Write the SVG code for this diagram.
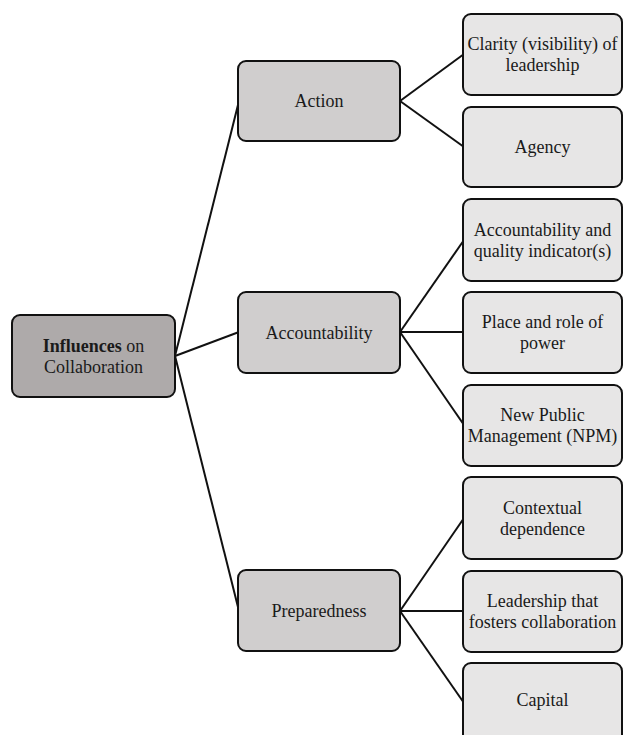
<svg xmlns="http://www.w3.org/2000/svg" width="623" height="735" viewBox="0 0 623 735">
  <style>
    .box { stroke: #111; stroke-width: 2; }
    .root { fill: #aeaaaa; }
    .mid { fill: #d0cece; }
    .leaf { fill: #e7e6e6; }
    .lbl { font-family: 'Liberation Serif', Tinos, 'Times New Roman', Times, 'DejaVu Serif', serif; font-size: 18px; fill: #1a1a1a; text-anchor: middle; }
    .edge { stroke: #111; stroke-width: 2; fill: none; }
  </style>
  <rect width="623" height="735" fill="#ffffff"/>

  <!-- connectors -->
  <g id="connectors">
    <line class="edge" x1="175" y1="356" x2="239" y2="101"/>
    <line class="edge" x1="175" y1="356" x2="239" y2="332"/>
    <line class="edge" x1="175" y1="356" x2="239" y2="611"/>
    <line class="edge" x1="400" y1="101" x2="464" y2="54"/>
    <line class="edge" x1="400" y1="101" x2="464" y2="147"/>
    <line class="edge" x1="400" y1="332" x2="464" y2="240"/>
    <line class="edge" x1="400" y1="332" x2="464" y2="332"/>
    <line class="edge" x1="400" y1="332" x2="464" y2="425"/>
    <line class="edge" x1="400" y1="611" x2="464" y2="518"/>
    <line class="edge" x1="400" y1="611" x2="464" y2="611"/>
    <line class="edge" x1="400" y1="611" x2="464" y2="703"/>
  </g>

  <g font-family="'Liberation Serif', Tinos, 'Times New Roman', Times, serif">
  <!-- root -->
  <g id="influences">
    <rect class="box root" x="12" y="315" width="163" height="82" rx="8"/>
    <text class="lbl" x="93.5" y="351.5"><tspan font-weight="bold">Influences</tspan> on</text>
    <text class="lbl" x="93.5" y="372.5">Collaboration</text>
  </g>

  <!-- second level -->
  <g id="action">
    <rect class="box mid" x="238" y="61" width="162" height="80" rx="8"/>
    <text class="lbl" x="319" y="107">Action</text>
  </g>
  <g id="accountability">
    <rect class="box mid" x="238" y="292" width="162" height="81" rx="8"/>
    <text class="lbl" x="319" y="338.5">Accountability</text>
  </g>
  <g id="preparedness">
    <rect class="box mid" x="238" y="570" width="162" height="81" rx="8"/>
    <text class="lbl" x="319" y="616.5">Preparedness</text>
  </g>

  <!-- leaves -->
  <g id="clarity">
    <rect class="box leaf" x="463" y="14" width="159" height="81" rx="8"/>
    <text class="lbl" x="542.5" y="49.5">Clarity (visibility) of</text>
    <text class="lbl" x="542.5" y="70.5">leadership</text>
  </g>
  <g id="agency">
    <rect class="box leaf" x="463" y="107" width="159" height="80" rx="8"/>
    <text class="lbl" x="542.5" y="153">Agency</text>
  </g>
  <g id="quality">
    <rect class="box leaf" x="463" y="199" width="159" height="82" rx="8"/>
    <text class="lbl" x="542.5" y="235.5">Accountability and</text>
    <text class="lbl" x="542.5" y="256.5">quality indicator(s)</text>
  </g>
  <g id="power">
    <rect class="box leaf" x="463" y="292" width="159" height="81" rx="8"/>
    <text class="lbl" x="542.5" y="328">Place and role of</text>
    <text class="lbl" x="542.5" y="349">power</text>
  </g>
  <g id="npm">
    <rect class="box leaf" x="463" y="385" width="159" height="81" rx="8"/>
    <text class="lbl" x="542.5" y="421">New Public</text>
    <text class="lbl" x="542.5" y="442">Management (NPM)</text>
  </g>
  <g id="contextual">
    <rect class="box leaf" x="463" y="477" width="159" height="82" rx="8"/>
    <text class="lbl" x="542.5" y="513.5">Contextual</text>
    <text class="lbl" x="542.5" y="534.5">dependence</text>
  </g>
  <g id="fostering">
    <rect class="box leaf" x="463" y="571" width="159" height="81" rx="8"/>
    <text class="lbl" x="542.5" y="607">Leadership that</text>
    <text class="lbl" x="542.5" y="628">fosters collaboration</text>
  </g>
  <g id="capital">
    <rect class="box leaf" x="463" y="663" width="159" height="82" rx="8"/>
    <text class="lbl" x="542.5" y="706">Capital</text>
  </g>
  </g>
</svg>
